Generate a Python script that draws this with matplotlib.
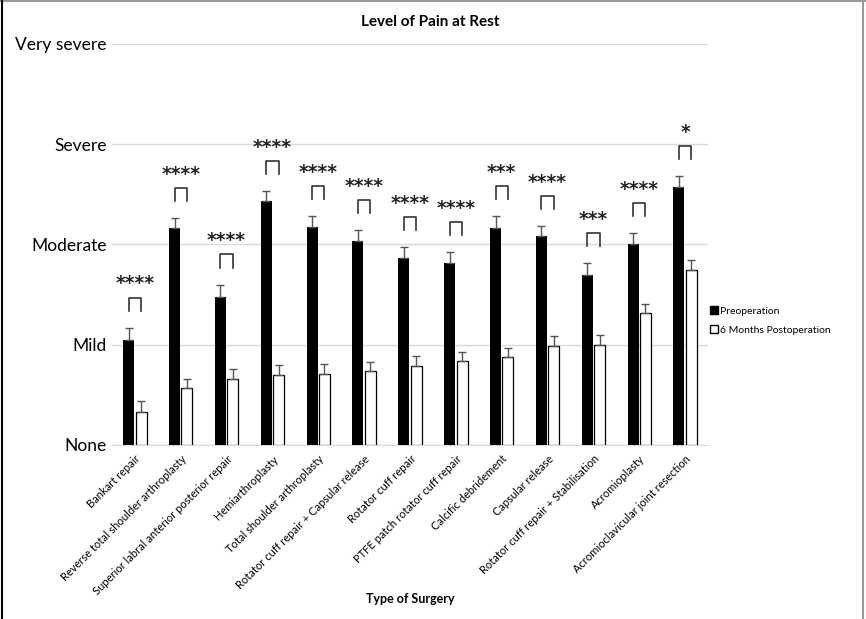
import numpy as np
import matplotlib.pyplot as plt
from matplotlib.lines import Line2D

plt.rcParams['font.family'] = ['Lato', 'DejaVu Sans']

# Mean pain scores (0 = None ... 4 = Very severe) and upper error bars
surgeries = ['Bankart repair', 'Reverse total shoulder arthroplasty',
             'Superior labral anterior posterior repair', 'Hemiarthroplasty',
             'Total shoulder arthroplasty', 'Rotator cuff repair + Capsular release',
             'Rotator cuff repair', 'PTFE patch rotator cuff repair',
             'Calcific debridement', 'Capsular release',
             'Rotator cuff repair + Stabilisation', 'Acromioplasty',
             'Acromioclavicular joint resection']
pre_op = [1.05, 2.16, 1.48, 2.43, 2.17, 2.03, 1.86, 1.81, 2.16, 2.08, 1.70, 2.00, 2.57]
pre_err = [0.12, 0.10, 0.12, 0.10, 0.11, 0.11, 0.11, 0.11, 0.12, 0.10, 0.11, 0.11, 0.11]
post_op = [0.33, 0.57, 0.66, 0.70, 0.71, 0.74, 0.79, 0.84, 0.88, 0.99, 1.00, 1.32, 1.75]
post_err = [0.11, 0.09, 0.10, 0.10, 0.10, 0.09, 0.10, 0.09, 0.09, 0.10, 0.10, 0.09, 0.09]
significance = ['****', '****', '****', '****', '****', '****', '****', '****',
                '***', '****', '***', '****', '*']
pain_levels = ['None', 'Mild', 'Moderate', 'Severe', 'Very severe']

fig = plt.figure(figsize=(8.66, 6.19), dpi=100)
ax = fig.add_axes([0.1293, 0.2811, 0.6883, 0.648])

x = np.arange(len(surgeries))
w = 0.24
off = 0.135
n = len(surgeries)

ax.bar(x - off, pre_op, w, color='black', label='Preoperation', zorder=3)
ax.bar(x + off, post_op, w, color='white', edgecolor='black', linewidth=0.9,
       label='6 Months Postoperation', zorder=3)
ax.errorbar(x - off, pre_op, yerr=[np.zeros(n), pre_err], fmt='none',
            ecolor='#555555', elinewidth=1, capsize=3, zorder=4)
ax.errorbar(x + off, post_op, yerr=[np.zeros(n), post_err], fmt='none',
            ecolor='#555555', elinewidth=1, capsize=3, zorder=4)

# significance brackets above each pair
for i in range(n):
    top = pre_op[i] + pre_err[i] + 0.30
    ax.plot([i - off, i - off, i + off, i + off], [top - 0.13, top, top, top - 0.13],
            color='#333333', lw=1.2, zorder=4)
    ax.text(i, top + 0.14, significance[i], ha='center', va='center',
            fontsize=13.5, fontweight='bold', family='DejaVu Sans', color='#222222')

ax.set_xlim(-0.5, n - 0.5)
ax.set_ylim(0, 4)
ax.set_yticks(range(5))
ax.set_yticklabels(pain_levels, fontsize=12.5)
ax.yaxis.grid(True, color='#d9d9d9', lw=1)
ax.set_axisbelow(True)
ax.tick_params(length=0, pad=4)
for s in ['top', 'right', 'left']:
    ax.spines[s].set_visible(False)
ax.spines['bottom'].set_color('#d9d9d9')

ax.set_xticks(x)
ax.set_xticklabels(surgeries, rotation=45, ha='right', rotation_mode='anchor',
                   fontsize=8)
ax.tick_params(axis='x', pad=6)
ax.set_xlabel('Type of Surgery', fontsize=9, fontweight='bold')
ax.xaxis.set_label_coords(0.5, -0.37)

ax.set_title('Level of Pain at Rest', fontsize=11, fontweight='bold', pad=0,
             x=0.534, y=1.045)

handles = [Line2D([], [], marker='s', color='black', markerfacecolor='black',
                  ls='none', markersize=6),
           Line2D([], [], marker='s', color='black', markerfacecolor='white',
                  ls='none', markersize=6)]
ax.legend(handles, ['Preoperation', '6 Months Postoperation'], frameon=False,
          loc='center left', bbox_to_anchor=(0.985, 0.31), fontsize=7.5,
          handletextpad=0.1, labelspacing=0.9, handlelength=1)

# frame around the figure
fig.add_artist(Line2D([0, 1], [0.999, 0.999], color='#999999', lw=1.5,
                      transform=fig.transFigure))
fig.add_artist(Line2D([0.002, 0.002], [0, 1], color='black', lw=1.5,
                      transform=fig.transFigure))
fig.add_artist(Line2D([0.997, 0.997], [0, 1], color='#999999', lw=1.5,
                      transform=fig.transFigure))

fig.savefig('out.png', dpi=100)
